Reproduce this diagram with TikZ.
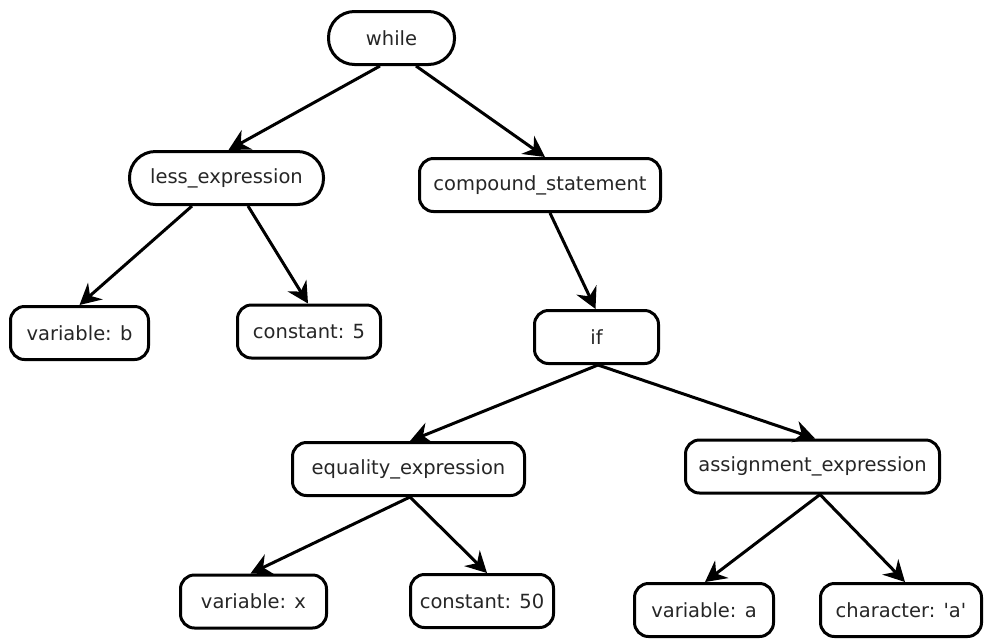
\documentclass[tikz,border=0pt]{standalone}
\usepackage{fontspec}
\setmainfont{DejaVu Sans}
\usetikzlibrary{arrows.meta}
\begin{document}
\begin{tikzpicture}[x=1pt,y=-1pt,
  box/.style={draw,line width=3pt,rounded corners=14pt,minimum height=53pt,
    inner sep=0pt,font=\fontsize{19.5}{22}\selectfont,text=black!85,fill=white},
  pill/.style={box,rounded corners=26pt},
  link/.style={line width=3pt,-{Stealth[length=21pt,width=22pt,inset=7pt]}}]
\useasboundingbox (0,0) rectangle (984,638);
% tree nodes
\node[pill,minimum width=126pt] (while) at (391.5,38) {while};
\node[pill,minimum width=194pt] (less) at (226.5,178) {less\_expression};
\node[box,minimum width=241pt] (comp) at (540,185) {compound\_statement};
\node[box,minimum width=138pt] (varb) at (79.5,333) {variable: b};
\node[box,minimum width=143pt] (cfive) at (309,331.5) {constant: 5};
\node[box,minimum width=124pt] (if) at (596.5,337) {if};
\node[box,minimum width=232pt] (eq) at (408.5,469) {equality\_expression};
\node[box,minimum width=254pt] (assign) at (812.5,466.5) {assignment\_expression};
\node[box,minimum width=146pt] (varx) at (253.5,601.5) {variable: x};
\node[box,minimum width=143pt] (cfifty) at (482,601) {constant: 50};
\node[box,minimum width=139pt] (vara) at (704,610) {variable: a};
\node[box,minimum width=161pt] (chr) at (901,610) {character: \textquotesingle a\textquotesingle};
% edges, parent to child
\draw[link] ([xshift=-11.5pt]while.south) -- ([xshift=2pt]less.north);
\draw[link] ([xshift=24.5pt]while.south) -- ([xshift=5pt]comp.north);
\draw[link] ([xshift=-34.5pt]less.south) -- (varb.north);
\draw[link] ([xshift=21.5pt]less.south) -- ([xshift=-1pt]cfive.north);
\draw[link] ([xshift=10pt]comp.south) -- ([xshift=-1pt]if.north);
\draw[link] ([xshift=1.5pt]if.south) -- ([xshift=1.5pt]eq.north);
\draw[link] ([xshift=1.5pt]if.south) -- ([xshift=2.5pt]assign.north);
\draw[link] ([xshift=1.5pt]eq.south) -- ([xshift=-3pt]varx.north);
\draw[link] ([xshift=1.5pt]eq.south) -- ([xshift=5pt]cfifty.north);
\draw[link] ([xshift=7.5pt]assign.south) -- ([xshift=1pt]vara.north);
\draw[link] ([xshift=7.5pt]assign.south) -- ([xshift=4pt]chr.north);
\end{tikzpicture}
\end{document}
